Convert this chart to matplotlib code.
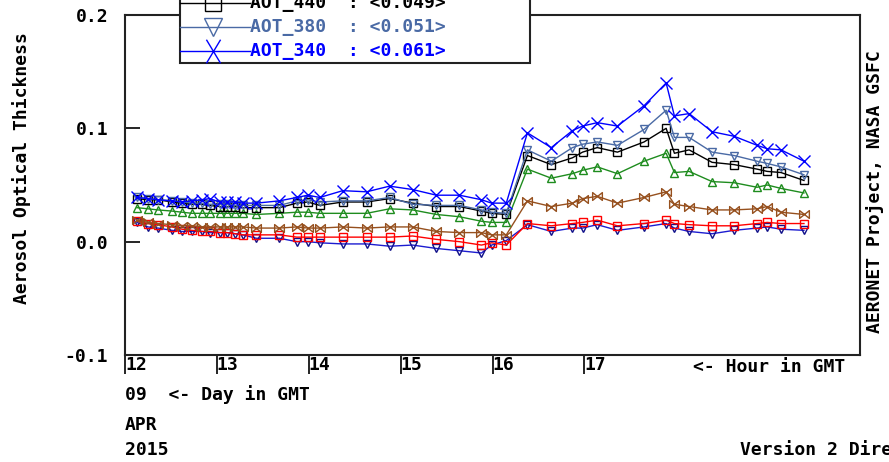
import numpy as np
import matplotlib
matplotlib.use('Agg')
import matplotlib.pyplot as plt
from matplotlib.lines import Line2D
from matplotlib.patches import Rectangle
from matplotlib.path import Path

W, H = 889, 462

# Measurement times (hour in GMT, 09 APR 2015)
hours = [12.13, 12.25, 12.36, 12.51, 12.62, 12.73, 12.84, 12.92, 13.03, 13.11,
         13.20, 13.28, 13.43, 13.68, 13.87, 13.99, 14.12, 14.37, 14.63, 14.88,
         15.13, 15.39, 15.64, 15.88, 15.99, 16.15, 16.38, 16.64, 16.87, 16.98,
         17.14, 17.36, 17.65, 17.89, 17.98, 18.14, 18.39, 18.63, 18.88, 18.99,
         19.14, 19.39]

aot_340 = [0.039, 0.038, 0.037, 0.036, 0.035, 0.036, 0.037, 0.038, 0.035, 0.035,
           0.035, 0.034, 0.034, 0.036, 0.039, 0.041, 0.039, 0.045, 0.044, 0.049,
           0.046, 0.041, 0.041, 0.037, 0.034, 0.034, 0.096, 0.083, 0.098, 0.102,
           0.105, 0.102, 0.120, 0.140, 0.111, 0.113, 0.097, 0.093, 0.085, 0.082,
           0.081, 0.071]
aot_380 = [0.039, 0.038, 0.037, 0.036, 0.035, 0.034, 0.034, 0.033, 0.033, 0.033,
           0.032, 0.032, 0.032, 0.032, 0.036, 0.037, 0.035, 0.036, 0.036, 0.039,
           0.033, 0.032, 0.032, 0.028, 0.026, 0.025, 0.081, 0.071, 0.083, 0.086,
           0.088, 0.085, 0.099, 0.116, 0.092, 0.092, 0.079, 0.076, 0.071, 0.069,
           0.066, 0.059]
aot_440 = [0.038, 0.037, 0.037, 0.035, 0.034, 0.033, 0.033, 0.032, 0.031, 0.031,
           0.031, 0.030, 0.030, 0.030, 0.034, 0.035, 0.032, 0.035, 0.035, 0.038,
           0.034, 0.031, 0.031, 0.027, 0.025, 0.024, 0.076, 0.068, 0.074, 0.079,
           0.083, 0.079, 0.088, 0.100, 0.078, 0.081, 0.070, 0.068, 0.064, 0.062,
           0.061, 0.054]
aot_500 = [0.030, 0.029, 0.028, 0.027, 0.026, 0.025, 0.025, 0.025, 0.025, 0.025,
           0.025, 0.025, 0.024, 0.025, 0.026, 0.026, 0.025, 0.025, 0.025, 0.029,
           0.028, 0.024, 0.022, 0.018, 0.017, 0.017, 0.064, 0.056, 0.060, 0.063,
           0.066, 0.060, 0.071, 0.078, 0.061, 0.062, 0.053, 0.052, 0.048, 0.050,
           0.047, 0.043]
aot_675 = [0.019, 0.017, 0.016, 0.015, 0.014, 0.014, 0.013, 0.013, 0.013, 0.013,
           0.013, 0.013, 0.012, 0.012, 0.013, 0.012, 0.012, 0.013, 0.012, 0.013,
           0.013, 0.009, 0.008, 0.008, 0.006, 0.006, 0.036, 0.031, 0.034, 0.038,
           0.040, 0.034, 0.039, 0.044, 0.033, 0.031, 0.028, 0.028, 0.029, 0.031,
           0.026, 0.024]
aot_870 = [0.018, 0.016, 0.015, 0.013, 0.011, 0.010, 0.009, 0.009, 0.008, 0.008,
           0.007, 0.006, 0.006, 0.006, 0.004, 0.004, 0.004, 0.004, 0.004, 0.004,
           0.005, 0.002, 0.000, -0.003, -0.001, -0.003, 0.016, 0.014, 0.016, 0.017,
           0.019, 0.014, 0.016, 0.019, 0.016, 0.015, 0.014, 0.014, 0.016, 0.017,
           0.016, 0.016]
aot_1020 = [0.017, 0.013, 0.012, 0.010, 0.009, 0.009, 0.009, 0.008, 0.008, 0.008,
            0.007, 0.006, 0.003, 0.003, 0.000, 0.000, -0.001, -0.002, -0.002, -0.004,
            -0.003, -0.006, -0.008, -0.010, -0.003, 0.001, 0.015, 0.009, 0.012, 0.012,
            0.015, 0.010, 0.013, 0.016, 0.012, 0.009, 0.007, 0.010, 0.012, 0.013,
            0.011, 0.010]

series = [aot_1020, aot_870, aot_675, aot_500, aot_440, aot_380, aot_340]

# legend rows that show below the top edge (top to bottom)
leg_names = ['AOT_440', 'AOT_380', 'AOT_340']
leg_avgs = [0.049, 0.051, 0.061]

hour_ticks = [12, 13, 14, 15, 16, 17]
ytick_vals = [-0.1, 0.0, 0.1, 0.2]
ytick_labels = ['-0.1', '0.0', '0.1', '0.2']

bowtie = Path([(-1, -0.8), (1, 0.8), (1, -0.8), (-1, 0.8), (-1, -0.8)],
              [Path.MOVETO, Path.LINETO, Path.LINETO, Path.LINETO, Path.CLOSEPOLY])
tall_x = Path([(-0.6, -1), (0.6, 1), (-0.6, 1), (0.6, -1)],
              [Path.MOVETO, Path.LINETO, Path.MOVETO, Path.LINETO])

colors = ['#1c1cd0', '#ff0000', '#96501e', '#1e8c1e', '#000000', '#4a6aa5', '#0000ff']
edge = ['#10108a', '#ff0000', '#96501e', '#1e8c1e', '#000000', '#4a6aa5', '#0000ff']
markers = ['v', 's', bowtie, '^', 's', 'v', 'x']
msizes = [6, 5.5, 7, 6, 5.5, 6, 8]

plt.rcParams['font.family'] = 'DejaVu Sans Mono'
plt.rcParams['font.weight'] = 'bold'
FS = 13

fig = plt.figure(figsize=(W / 100, H / 100), dpi=100, facecolor='white')
ax = fig.add_axes([125 / W, 1 - 355 / H, 735 / W, 340 / H])

for vals, c, ec, m, ms in zip(series, colors, edge, markers, msizes):
    ax.plot(hours, vals, color=c, lw=1, marker=m, ms=ms, mfc='none', mec=ec, mew=1)

ax.set_xlim(12, 20)
ax.set_ylim(-0.1, 0.2)
ax.set_xticks(hour_ticks, [str(h) for h in hour_ticks])
ax.set_yticks(ytick_vals, ytick_labels)
ax.tick_params(axis='x', direction='out', length=14, width=1.2, pad=-13, labelsize=FS)
ax.tick_params(axis='y', direction='in', length=11, width=1.2, pad=12, labelsize=FS)
for lbl in ax.get_xticklabels():
    lbl.set_horizontalalignment('left')
for sp in ax.spines.values():
    sp.set_linewidth(1.5)
    sp.set_color('#222222')

# legend box, hanging over the top of the plot
fig.add_artist(Rectangle((180 / W, 1 - 63 / H), 350 / W, 80 / H, transform=fig.transFigure,
                         facecolor='white', edgecolor='#222222', lw=1.5, zorder=5))
leg_colors = colors[4:]
leg_edges = edge[4:]
leg_markers = ['s', 'v', tall_x]
leg_sizes = [11, 13, 17]
n = len(leg_names)
for i, (name, c, ec, m, ms, avg) in enumerate(zip(leg_names, leg_colors, leg_edges,
                                                   leg_markers, leg_sizes, leg_avgs)):
    y = 1 - (51 - 24 * (n - 1 - i)) / H
    fig.add_artist(Line2D([180 / W, 213 / W, 250 / W], [y, y, y], transform=fig.transFigure,
                          color=c, lw=1, marker=m, ms=ms, markevery=[1], mfc='none', mec=ec,
                          mew=1, zorder=6))
    fig.text(250 / W, y, f'{name}  : <{avg:.3f}>', color=c, fontsize=FS, va='center',
             ha='left', zorder=7)

fig.text(22 / W, 1 - 168 / H, 'Aerosol Optical Thickness', rotation=90, fontsize=FS,
         ha='center', va='center')
fig.text(875 / W, 1 - 333 / H, 'AERONET Project, NASA GSFC', rotation=90, fontsize=FS,
         ha='left', va='center', rotation_mode='anchor')
fig.text(693 / W, 1 - 367 / H, '<- Hour in GMT', fontsize=FS, ha='left', va='center')
fig.text(125 / W, 1 - 395 / H, '09  <- Day in GMT', fontsize=FS, ha='left', va='center')
fig.text(125 / W, 1 - 425 / H, 'APR', fontsize=FS, ha='left', va='center')
fig.text(125 / W, 1 - 450 / H, '2015', fontsize=FS, ha='left', va='center')
fig.text(740 / W, 1 - 450 / H, 'Version 2 Direct Sun Algorithm', fontsize=FS, ha='left',
         va='center')

fig.savefig('out.png', dpi=100)
